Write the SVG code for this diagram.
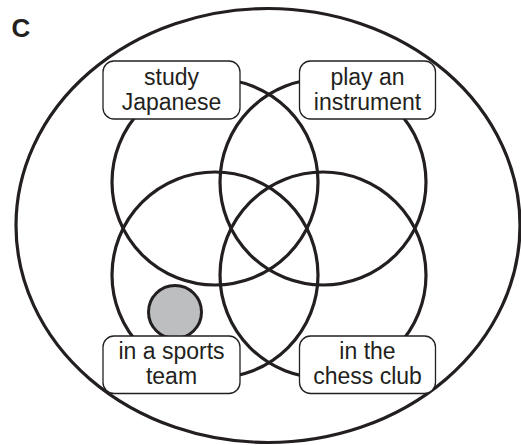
<svg xmlns="http://www.w3.org/2000/svg" width="521" height="445" viewBox="0 0 521 445">
  <style>
    .ring { fill: none; stroke: #231f20; stroke-width: 3.2; }
    .box { fill: #ffffff; stroke: #231f20; stroke-width: 1.3; }
    .lbl { font-family: "Liberation Sans", Arial, sans-serif; font-size: 23px; fill: #231f20; text-anchor: middle; }
    .tag { font-family: "Liberation Sans", Arial, sans-serif; font-size: 26px; font-weight: bold; fill: #231f20; }
  </style>
  <rect width="521" height="445" fill="#ffffff"/>
  <text class="tag" x="11.5" y="37">C</text>
  <g id="universe">
    <ellipse class="ring" cx="268" cy="225.5" rx="252" ry="217"/>
  </g>
  <g id="sets">
    <circle class="ring" cx="215" cy="182" r="103"/>
    <circle class="ring" cx="323" cy="182" r="103"/>
    <circle class="ring" cx="215" cy="275" r="103"/>
    <circle class="ring" cx="323" cy="275" r="103"/>
  </g>
  <g id="marker-dot">
    <circle cx="175" cy="312" r="26.5" fill="#bcbec0" stroke="#231f20" stroke-width="3"/>
  </g>
  <g id="node-japanese">
    <rect class="box" x="103" y="61" width="137" height="58" rx="11"/>
    <text class="lbl" x="171.5" y="85">study</text>
    <text class="lbl" x="171.5" y="110">Japanese</text>
  </g>
  <g id="node-instrument">
    <rect class="box" x="299.5" y="61" width="136" height="58" rx="11"/>
    <text class="lbl" x="367.5" y="85">play an</text>
    <text class="lbl" x="367.5" y="110">instrument</text>
  </g>
  <g id="node-sports">
    <rect class="box" x="103" y="336" width="137" height="57.5" rx="11"/>
    <text class="lbl" x="171.5" y="359">in a sports</text>
    <text class="lbl" x="171.5" y="384">team</text>
  </g>
  <g id="node-chess">
    <rect class="box" x="299.5" y="336" width="136" height="57.5" rx="11"/>
    <text class="lbl" x="367.5" y="359">in the</text>
    <text class="lbl" x="367.5" y="384">chess club</text>
  </g>
</svg>
